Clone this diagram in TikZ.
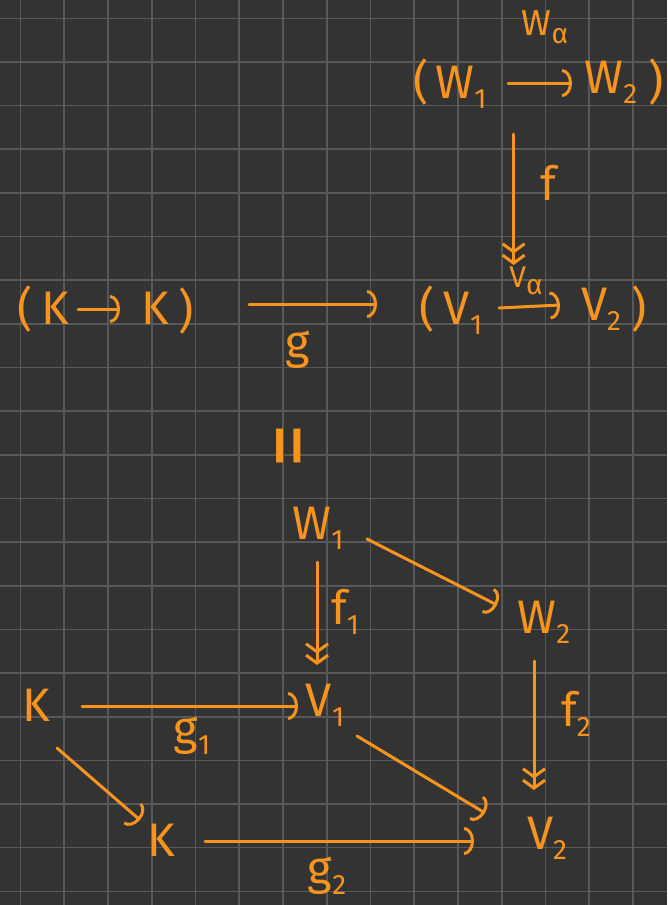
\documentclass[tikz,border=0pt]{standalone}
\usepackage{fontspec}
\setmainfont{Fira Sans}
\usetikzlibrary{arrows.meta,calc}
\definecolor{bg}{RGB}{51,51,51}
\definecolor{gridc}{RGB}{88,88,88}
\definecolor{ink}{RGB}{247,148,30}
\newcommand\lo[1]{\raisebox{-0.4ex}{\fontsize{28}{28}\selectfont #1}}
\begin{document}
\begin{tikzpicture}[x=1pt,y=-1pt,
  lab/.style={text=ink, font=\fontsize{47}{50}\selectfont, inner sep=0pt},
  smalllab/.style={text=ink, font=\fontsize{36}{38}\selectfont, inner sep=0pt},
  arr/.style={draw=ink, line width=3pt, line cap=round,
    -{Arc Barb[length=10pt,width=28pt]}},
  epi/.style={draw=ink, line width=3pt, line cap=round,
    -{Straight Barb[length=8pt,width=22pt]Straight Barb[length=8pt,width=22pt]}},
]
\useasboundingbox (0,0) rectangle (667,905);
\fill[bg] (0,0) rectangle (667,905);
\foreach \i in {0,...,14} \draw[gridc, line width=1.6pt] ({20.5+43.75*\i},0) -- ({20.5+43.75*\i},905);
\foreach \j in {0,...,20} \draw[gridc, line width=1.6pt] (0,{18.3+43.65*\j}) -- (667,{18.3+43.65*\j});

% top group
\node[smalllab] (Wa) at (545,27) {W\lo{α}};
\node[lab] (lpW) at (421,82) {(};
\node[lab] (W1t) at (461,87) {W\lo{1}};
\node[lab] (W2t) at (611,82) {W\lo{2}};
\node[lab] (rpW) at (656,82) {)};
\draw[arr] ($(W1t)+(47,-4)$) -- ($(W2t)+(-39,1)$);

% second row
\node[lab] (lpK) at (25,309) {(};
\node[lab] (Ka) at (55,308) {K};
\node[lab] (Kb) at (155,308) {K};
\node[lab] (rpK) at (186,311) {)};
\draw[arr] ($(Ka)+(23,1)$) -- ($(Kb)+(-35,1)$);

\node[lab] (lpV) at (427,309) {(};
\node[lab] (V1t) at (463,313) {V\lo{1}};
\node[lab] (V2t) at (601,309) {V\lo{2}};
\node[lab] (rpV) at (639,309) {)};
\node[text=ink, font=\fontsize{30}{32}\selectfont, inner sep=0pt] (Va) at (526,281) {V\lo{α}};
\draw[arr] ($(V1t)+(36,-5)$) -- ($(V2t)+(-41,-4)$);

\draw[epi] ($(W1t)+(52.6,47)$) -- ($(Va)+(-12.4,-16)$);
\node[lab] (flab) at (548,183) {f};

\draw[arr] ($(rpK)+(63,-7)$) -- ($(lpV)+(-50,-5)$);
\node[lab] (glab) at (298,350) {g};

\node[text=ink, inner sep=0pt, rotate=90, font=\fontsize{90}{90}\selectfont] (eq) at (298,446) {=};

% lower diagram
\node[lab] (W1) at (318,528) {W\lo{1}};
\node[lab] (W2) at (544,622) {W\lo{2}};
\node[lab] (K1) at (36,705) {K};
\node[lab] (V1) at (325,705) {V\lo{1}};
\node[lab] (K2) at (161,840) {K};
\node[lab] (V2) at (547,838) {V\lo{2}};

\draw[arr] ($(W1)+(49,11)$) -- ($(W2)+(-47,-17)$);
\draw[epi] ($(W1)+(-1,34)$) -- ($(V1)+(-8,-40)$);
\node[lab] (f1lab) at (345,612) {f\lo{1}};
\draw[epi] ($(W2)+(-10,39)$) -- ($(V2)+(-13,-48)$);
\node[lab] (f2lab) at (576,714) {f\lo{2}};
\draw[arr] ($(K1)+(46,1)$) -- ($(V1)+(-27,1)$);
\node[lab] (g1lab) at (192,736) {g\lo{1}};
\draw[arr] ($(V1)+(32,31)$) -- ($(V2)+(-62,-25)$);
\draw[arr] ($(K1)+(21,43)$) -- ($(K2)+(-21,-20)$);
\draw[arr] ($(K2)+(44,1)$) -- ($(V2)+(-73,3)$);
\node[lab] (g2lab) at (327,876) {g\lo{2}};
\end{tikzpicture}
\end{document}
